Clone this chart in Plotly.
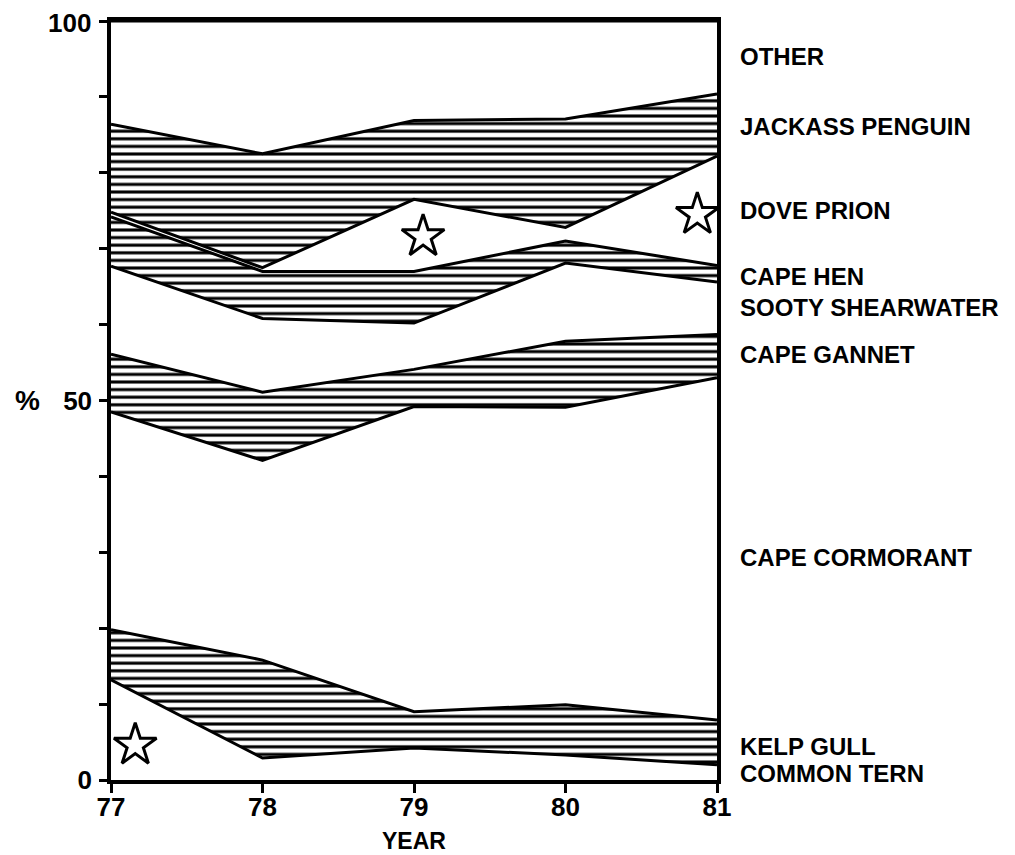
import plotly.graph_objects as go

years = [77, 78, 79, 80, 81]

# species percentages per year, stacked from the bottom up
species = ["COMMON TERN", "KELP GULL", "CAPE CORMORANT", "CAPE GANNET",
           "SOOTY SHEARWATER", "CAPE HEN", "DOVE PRION", "JACKASS PENGUIN", "OTHER"]
common_tern = [13.2, 2.9, 4.2, 3.3, 2.0]
kelp_gull = [6.6, 12.9, 4.8, 6.6, 5.9]
cape_cormorant = [28.7, 26.3, 40.2, 39.2, 45.1]
cape_gannet = [7.6, 9.0, 4.9, 8.7, 5.7]
sooty_shearwater = [11.6, 9.7, 6.1, 10.3, 6.9]
cape_hen = [6.5, 6.2, 6.8, 2.9, 2.2]
dove_prion = [0.6, 0.5, 9.5, 1.8, 14.4]
jackass_penguin = [11.6, 15.0, 10.4, 14.3, 8.2]
other = [13.6, 17.5, 13.1, 12.9, 9.6]

series = [common_tern, kelp_gull, cape_cormorant, cape_gannet, sooty_shearwater,
          cape_hen, dove_prion, jackass_penguin, other]
hatched = [False, True, False, True, False, True, False, True, False]

# stars marking small categories
star_x = [77.16, 79.06, 80.87]
star_y = [4.6, 71.6, 74.5]

# right-hand labels (y position in %)
label_text = ["OTHER", "JACKASS PENGUIN", "DOVE PRION", "CAPE HEN", "SOOTY SHEARWATER",
              "CAPE GANNET", "CAPE CORMORANT", "KELP GULL", "COMMON TERN"]
label_y = [95.3, 86.1, 75.0, 66.3, 62.3, 56.0, 29.3, 4.4, 0.9]

# y-axis ticks
ytickvals = [0, 10, 20, 30, 40, 50, 60, 70, 80, 90, 100]
yticktext = ["0", "", "", "", "", "50", "", "", "", "", ""]
ytop_label = "100"

FONT = "Liberation Sans"

fig = go.Figure()
for name, vals, h in zip(species, series, hatched):
    kw = dict(
        x=years, y=vals, name=name, mode="lines", stackgroup="one",
        line=dict(color="black", width=3, shape="linear"),
        fillcolor="white", hoverinfo="skip",
    )
    if h:
        kw["fillpattern"] = dict(shape="-", size=7.6, solidity=0.4,
                                 fgcolor="black", bgcolor="white", fillmode="replace")
    fig.add_trace(go.Scatter(**kw))

fig.add_trace(go.Scatter(
    x=star_x, y=star_y, mode="markers",
    marker=dict(symbol="star", size=32, color="white",
                line=dict(color="black", width=3)),
    hoverinfo="skip", showlegend=False,
))

for t, y in zip(label_text, label_y):
    fig.add_annotation(x=1.0, xref="paper", y=y, yref="y", text=t,
                       showarrow=False, xanchor="left", xshift=21,
                       font=dict(family=FONT, size=24, color="black", weight="bold"))

fig.add_annotation(x=0, xref="paper", y=50, yref="y", text="%", showarrow=False,
                   xanchor="center", xshift=-84,
                   font=dict(family=FONT, size=28, color="black", weight="bold"))

fig.add_annotation(x=0, xref="paper", y=1, yref="paper", text=ytop_label, showarrow=False,
                   xanchor="right", yanchor="top", xshift=-19, yshift=14,
                   borderpad=0,
                   font=dict(family=FONT, size=26, color="black", weight="bold"))

fig.add_annotation(x=0.5, xref="paper", y=0, yref="paper", text="YEAR", showarrow=False,
                   xanchor="center", yanchor="middle", yshift=-61,
                   font=dict(family=FONT, size=23, color="black", weight="bold"))

tickfont = dict(family=FONT, size=26, color="black", weight="bold")

fig.update_layout(
    width=1015, height=855,
    margin=dict(l=103, r=306, t=13, b=83),
    paper_bgcolor="white", plot_bgcolor="white",
    showlegend=False,
    font=dict(family=FONT, size=25, color="black"),
    xaxis=dict(
        range=[77, 81], tickvals=years, ticktext=[str(v) for v in years],
        ticks="outside", ticklen=9, tickwidth=3, tickcolor="black",
        showline=True, linewidth=3.5, linecolor="black", mirror=True,
        showgrid=False, zeroline=False, automargin=False,
        tickfont=tickfont, ticklabelstandoff=-8, ticklabeloverflow="allow",
    ),
    yaxis=dict(
        range=[0, 100], tickvals=ytickvals, ticktext=yticktext,
        ticks="outside", ticklen=8, tickwidth=3, tickcolor="black",
        showline=True, linewidth=3.5, linecolor="black", mirror=True,
        showgrid=False, zeroline=False, automargin=False,
        tickfont=tickfont, ticklabelstandoff=2, ticklabeloverflow="allow",
    ),
)

fig.write_html("out.html")
